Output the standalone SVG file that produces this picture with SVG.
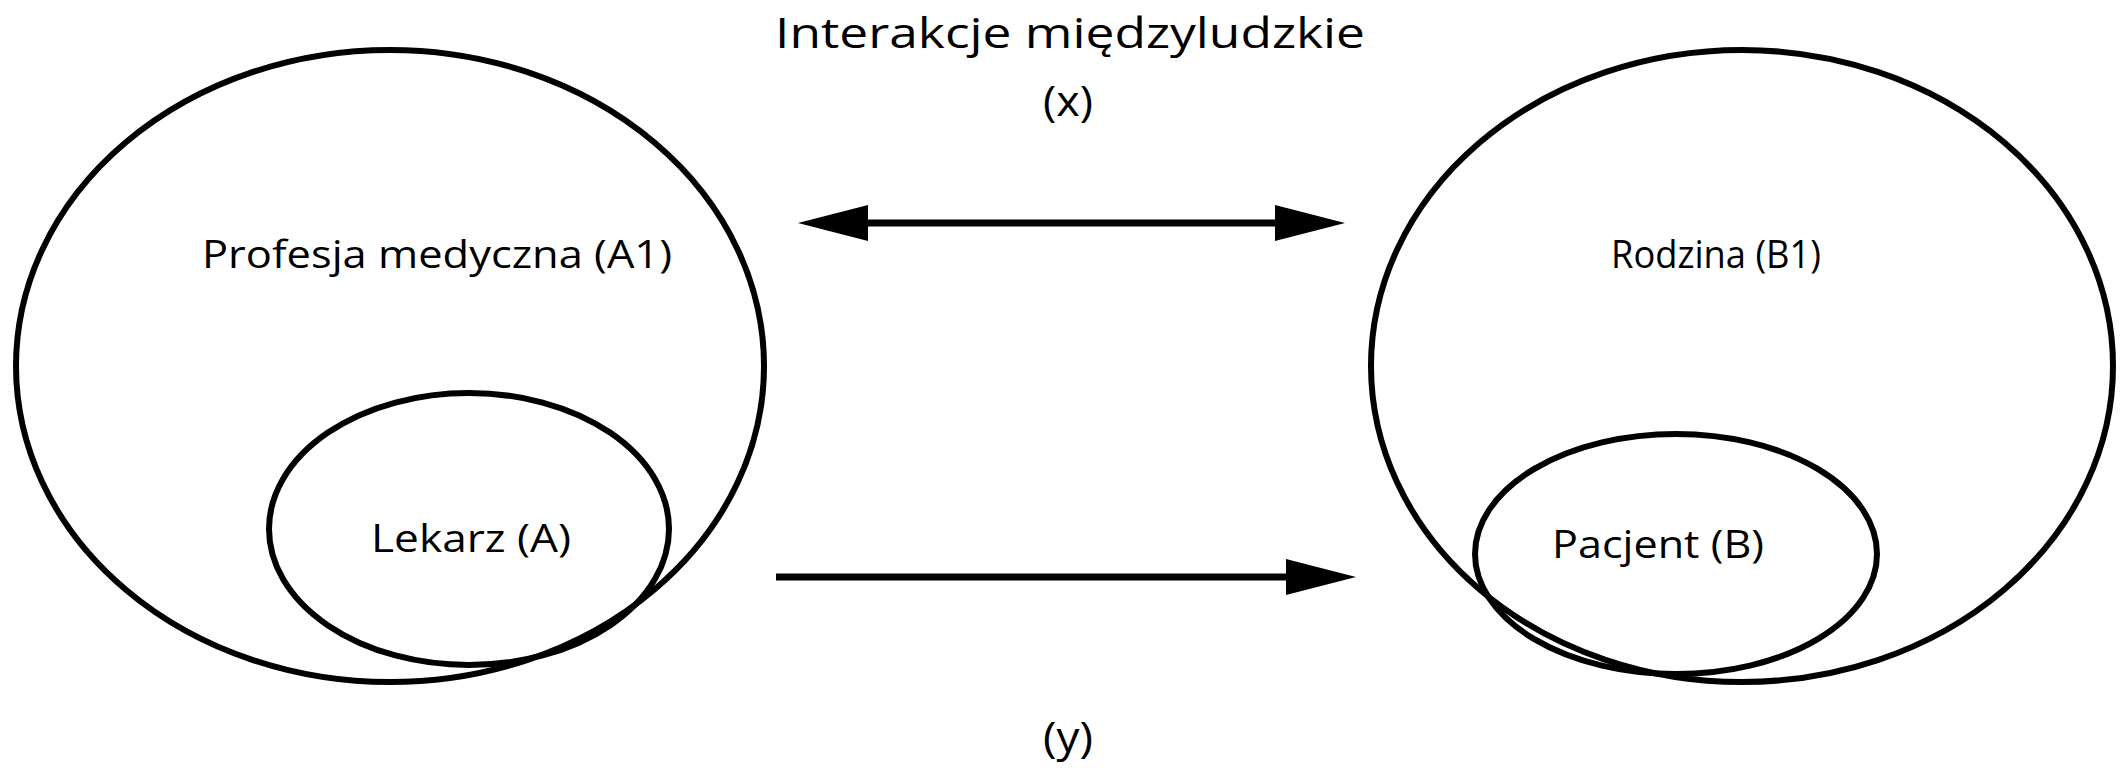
<svg xmlns="http://www.w3.org/2000/svg" width="2128" height="768" viewBox="0 0 2128 768">
<style>
.ell{fill:none;stroke:#000;stroke-width:6}
.lbl{font-family:"Open Sans","Noto Sans",sans-serif;font-size:39px;font-weight:500;fill:#000;text-anchor:middle}
.ttl{font-family:"Open Sans","Noto Sans",sans-serif;font-size:42px;font-weight:500;fill:#000;text-anchor:middle}
.con{stroke:#000;stroke-width:7;fill:none}
</style>
<defs>
<marker id="ah" markerUnits="userSpaceOnUse" markerWidth="70" markerHeight="40" refX="0" refY="18" orient="auto-start-reverse" viewBox="0 0 70 36">
<path d="M0,0 L70,18 L0,36 Z" fill="#000"/>
</marker>
</defs>
<rect width="2128" height="768" fill="#fff"/>
<g id="title">
<text class="ttl" x="1070" y="48" textLength="590" lengthAdjust="spacingAndGlyphs">Interakcje międzyludzkie</text>
<text class="ttl" x="1068" y="116" textLength="50" lengthAdjust="spacingAndGlyphs">(x)</text>
</g>
<g id="A1">
<ellipse class="ell" cx="390" cy="366" rx="374" ry="316"/>
<text class="lbl" x="437" y="268" textLength="470" lengthAdjust="spacingAndGlyphs">Profesja medyczna (A1)</text>
</g>
<g id="A">
<ellipse class="ell" cx="469" cy="529" rx="200" ry="136"/>
<text class="lbl" x="471" y="552" textLength="200" lengthAdjust="spacingAndGlyphs">Lekarz (A)</text>
</g>
<g id="B1">
<ellipse class="ell" cx="1742" cy="366" rx="371" ry="316"/>
<text class="lbl" x="1716" y="268" textLength="210" lengthAdjust="spacingAndGlyphs">Rodzina (B1)</text>
</g>
<g id="B">
<ellipse class="ell" cx="1676" cy="554" rx="201" ry="120"/>
<text class="lbl" x="1658" y="558" textLength="212" lengthAdjust="spacingAndGlyphs">Pacjent (B)</text>
</g>
<g id="connectors">
<line class="con" x1="868" y1="223" x2="1275" y2="223" marker-start="url(#ah)" marker-end="url(#ah)"/>
<line class="con" x1="776" y1="577" x2="1286" y2="577" marker-end="url(#ah)"/>
</g>
<g id="ylabel">
<text class="ttl" x="1068" y="752" textLength="50" lengthAdjust="spacingAndGlyphs">(y)</text>
</g>
</svg>
